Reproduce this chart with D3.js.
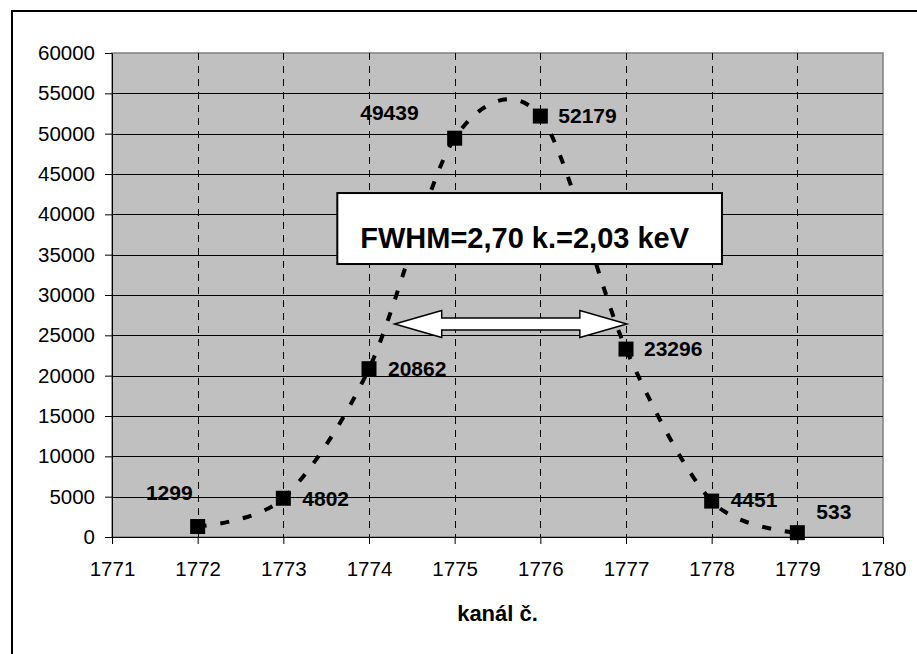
<!DOCTYPE html>
<html>
<head>
<meta charset="utf-8">
<script src="https://cdn.jsdelivr.net/npm/d3@7"></script>
<style>
  body { margin: 0; background: #fff; }
  svg { display: block; font-family: "Liberation Sans", Arial, sans-serif; }
</style>
</head>
<body>
<div id="chart"></div>
<script>
// channel numbers and counts
var channels = [1772, 1773, 1774, 1775, 1776, 1777, 1778, 1779];
var counts = [1299, 4802, 20862, 49439, 52179, 23296, 4451, 533];
var xTicks = [1771, 1772, 1773, 1774, 1775, 1776, 1777, 1778, 1779, 1780];
var yTicks = [0, 5000, 10000, 15000, 20000, 25000, 30000, 35000, 40000, 45000, 50000, 55000, 60000];
var xTitle = "kanál č.";
var noteText = "FWHM=2,70 k.=2,03 keV";
// FWHM arrow: from/to channel at half height
var fwhmFrom = 1774.3, fwhmTo = 1777.01, fwhmLevel = 26400;

var W = 917, H = 654;
var margin = { left: 112, top: 53, right: 917 - 883, bottom: 654 - 537 };
var w = W - margin.left - margin.right,
    h = H - margin.top - margin.bottom;

var xScale = d3.scaleLinear().domain([1771, 1780]).range([0, w]);
var yScale = d3.scaleLinear().domain([0, 60000]).range([h, 0]);

var svg = d3.select("#chart").append("svg")
  .attr("width", W)
  .attr("height", H);

// outer frame (runs off right/bottom edge like the original)
svg.append("rect")
  .attr("x", 12).attr("y", 11)
  .attr("width", 1000).attr("height", 1000)
  .attr("fill", "#fff")
  .attr("stroke", "#000")
  .attr("stroke-width", 2);

var g = svg.append("g")
  .attr("transform", "translate(" + margin.left + "," + margin.top + ")");

// gray plot area
g.append("rect")
  .attr("width", w).attr("height", h)
  .attr("fill", "#c0c0c0")
  .attr("stroke", "#808080")
  .attr("stroke-width", 1.5);

// horizontal grid
g.selectAll(".hgrid")
  .data(yTicks.slice(1, -1))
  .enter().append("line")
  .attr("x1", 0).attr("x2", w)
  .attr("y1", function(d) { return Math.round(yScale(d)) + 0.5; })
  .attr("y2", function(d) { return Math.round(yScale(d)) + 0.5; })
  .attr("stroke", "#000")
  .attr("stroke-width", 1);

// vertical dashed grid
g.selectAll(".vgrid")
  .data(xTicks.slice(1, -1))
  .enter().append("line")
  .attr("x1", function(d) { return Math.round(xScale(d)) + 0.5; })
  .attr("x2", function(d) { return Math.round(xScale(d)) + 0.5; })
  .attr("y1", 0).attr("y2", h)
  .attr("stroke", "#000")
  .attr("stroke-width", 1)
  .attr("stroke-dasharray", "7,6");

// axes
var xAxis = g.append("g")
  .attr("transform", "translate(0," + h + ")")
  .call(d3.axisBottom(xScale).tickValues(xTicks).tickFormat(d3.format("d"))
    .tickSize(7).tickSizeOuter(0).tickPadding(17));
var yAxis = g.append("g")
  .call(d3.axisLeft(yScale).tickValues(yTicks).tickFormat(d3.format("d"))
    .tickSize(7).tickSizeOuter(0).tickPadding(10));

[xAxis, yAxis].forEach(function(a) {
  a.attr("font-family", null).attr("font-size", "20.5px");
  a.selectAll("text").attr("fill", "#000");
  a.selectAll("line").attr("stroke", "#000");
  a.select(".domain").attr("stroke", "#000");
});

// axis title
svg.append("text")
  .attr("x", margin.left + w / 2)
  .attr("y", 621)
  .attr("text-anchor", "middle")
  .attr("font-size", "22px")
  .attr("font-weight", "bold")
  .text(xTitle);

var pts = channels.map(function(c, i) { return [c, counts[i]]; });

// smoothed dashed line
var line = d3.line()
  .x(function(d) { return xScale(d[0]); })
  .y(function(d) { return yScale(d[1]); })
  .curve(d3.curveCardinal.tension(0.1));

g.append("path")
  .datum(pts)
  .attr("d", line)
  .attr("fill", "none")
  .attr("stroke", "#000")
  .attr("stroke-width", 4)
  .attr("stroke-dasharray", "9,14");

// square markers
g.selectAll(".mk")
  .data(pts)
  .enter().append("rect")
  .attr("x", function(d) { return xScale(d[0]) - 7.5; })
  .attr("y", function(d) { return yScale(d[1]) - 7.5; })
  .attr("width", 15).attr("height", 15)
  .attr("fill", "#000");

// label placement per point: [dx, dy, anchor]
var labelPos = [[-5, -34, "end"], [19, 0, "start"], [19, 0, "start"], [-36, -26, "end"],
                [18, 0, "start"], [18, 0, "start"], [19, -1, "start"], [19, -21, "start"]];

g.selectAll(".lbl")
  .data(pts)
  .enter().append("text")
  .attr("x", function(d, i) { return xScale(d[0]) + labelPos[i][0]; })
  .attr("y", function(d, i) { return yScale(d[1]) + labelPos[i][1]; })
  .attr("dy", "0.35em")
  .attr("text-anchor", function(d, i) { return labelPos[i][2]; })
  .attr("font-size", "21px")
  .attr("font-weight", "bold")
  .text(function(d) { return d[1]; });

// FWHM double arrow
var ax1 = xScale(fwhmFrom), ax2 = xScale(fwhmTo), ay = yScale(fwhmLevel);
var headL = 47, headH = 13.5, shaftH = 6;
var arrowPts = [
  [ax1, ay], [ax1 + headL, ay - headH], [ax1 + headL, ay - shaftH],
  [ax2 - headL, ay - shaftH], [ax2 - headL, ay - headH], [ax2, ay],
  [ax2 - headL, ay + headH], [ax2 - headL, ay + shaftH],
  [ax1 + headL, ay + shaftH], [ax1 + headL, ay + headH]
];
g.append("polygon")
  .attr("points", arrowPts.map(function(p) { return p.join(","); }).join(" "))
  .attr("fill", "#fff")
  .attr("stroke", "#000")
  .attr("stroke-width", 1.5);

// annotation box
var bx1 = xScale(1773.63), bx2 = xScale(1778.12),
    by1 = yScale(42640), by2 = yScale(33840);
g.append("rect")
  .attr("x", bx1).attr("y", by1)
  .attr("width", bx2 - bx1).attr("height", by2 - by1)
  .attr("fill", "#fff")
  .attr("stroke", "#000")
  .attr("stroke-width", 2);

g.append("text")
  .attr("x", (bx1 + bx2) / 2 - 5)
  .attr("y", by1 + 55)
  .attr("text-anchor", "middle")
  .attr("font-size", "29px")
  .attr("font-weight", "bold")
  .text(noteText);
</script>
</body>
</html>
